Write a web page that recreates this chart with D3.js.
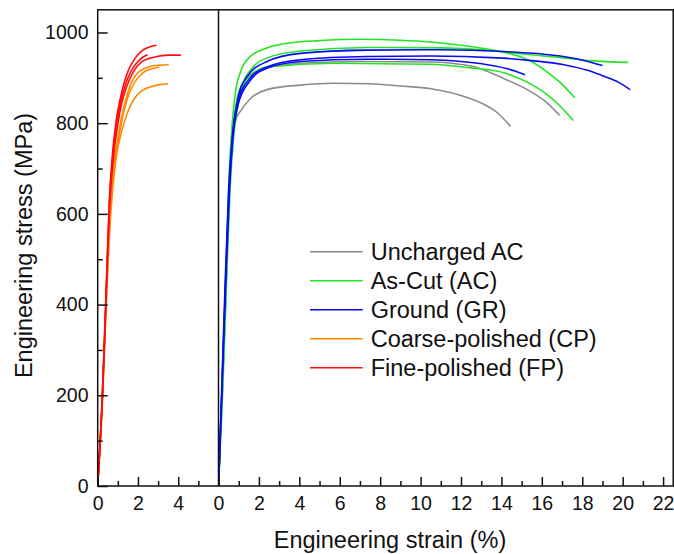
<!DOCTYPE html>
<html>
<head>
<meta charset="utf-8">
<script src="https://cdn.jsdelivr.net/npm/d3@7/dist/d3.min.js"></script>
<style>
  html, body { margin: 0; padding: 0; background: #fff; }
  svg { display: block; }
  text { font-family: Arial, "Liberation Sans", sans-serif; fill: #111; }
</style>
</head>
<body>
<svg id="chart" width="674" height="554"></svg>
<script>
// Tensile curves, [engineering strain (%), engineering stress (MPa)]

// Left panel: polished specimens
const coarsePolished = [
  [[0,0],[0.24,200],[0.44,430],[0.62,610],[0.82,710],[1.05,780],[1.27,830],[1.5,868],[1.68,890],[2.01,912],[2.35,921],[2.68,926],[3.1,928],[3.53,929]],
  [[0,0],[0.24,200],[0.44,430],[0.63,610],[0.85,710],[1.1,782],[1.3,826],[1.55,864],[1.85,891],[2.1,905],[2.34,914],[2.7,920],[3.05,924]],
  [[0,0],[0.25,200],[0.45,430],[0.65,600],[0.8,680],[0.94,730],[1.19,782],[1.52,828],[1.85,856],[2.18,871],[2.68,881],[3.1,885],[3.5,887]]
];
const finePolished = [
  [[0,0],[0.23,200],[0.42,430],[0.58,630],[0.72,725],[0.9,800],[1.1,850],[1.3,887],[1.52,916],[1.85,943],[2.18,959],[2.5,967],[2.92,972]],
  [[0,0],[0.23,200],[0.42,430],[0.58,625],[0.75,725],[0.95,800],[1.15,848],[1.4,888],[1.7,918],[2.0,936],[2.25,946],[2.48,951]],
  [[0,0],[0.24,200],[0.43,430],[0.6,620],[0.78,722],[1.0,798],[1.2,845],[1.45,882],[1.77,913],[2.18,935],[2.84,946],[3.5,950],[4.13,950]]
];

// Right panel: uncharged, as-cut and ground specimens
const unchargedAC = [
  [[0,0],[0.18,200],[0.38,450],[0.55,670],[0.72,780],[0.95,855],[1.3,895],[2.4,924],[4.05,932],[7,936],[10.5,935],[12.5,926],[14.13,898],[15.28,874],[16.2,847],[16.88,817]],
  [[0,0],[0.18,200],[0.38,450],[0.55,670],[0.7,770],[0.88,810],[1.08,826],[1.6,855],[2.4,874],[4.05,884],[5.7,888],[7.5,887],[9,882],[10.5,876],[12.15,859],[13.2,840],[13.8,823],[14.45,793]]
];
const asCut = [
  [[0,0],[0.17,200],[0.36,450],[0.52,680],[0.68,800],[0.85,872],[1.08,912],[1.57,947],[2.4,966],[3.22,975],[5,982],[7,985],[9,983],[10.5,979],[12,972],[13.5,962],[14.5,952],[15.44,937],[16.2,915],[16.93,889],[17.63,856]],
  [[0,0],[0.18,200],[0.38,450],[0.55,680],[0.72,790],[0.95,860],[1.24,893],[1.8,928],[2.4,944],[4.05,959],[7.35,967],[11,966],[13.3,961],[15,953],[17.1,944],[18.4,938],[20.27,934]],
  [[0,0],[0.2,200],[0.4,450],[0.58,660],[0.75,770],[1.0,850],[1.4,895],[2.4,924],[5.7,932],[10.5,930],[12.47,922],[14.13,911],[15.3,890],[16.2,865],[16.9,838],[17.56,806]]
];
const ground = [
  [[0,0],[0.15,200],[0.33,450],[0.5,650],[0.68,770],[0.9,842],[1.4,902],[2.4,936],[4.05,954],[7.35,961],[11,962],[14.13,958],[16.9,948],[17.92,940],[19.0,927]],
  [[0,0],[0.16,200],[0.35,450],[0.52,650],[0.7,770],[0.95,843],[1.5,896],[2.4,924],[4.05,940],[7.35,947],[10.5,948],[13.8,944],[15.5,938],[17.1,929],[18.3,916],[19.1,903],[19.8,890],[20.37,874]],
  [[0,0],[0.16,200],[0.36,450],[0.54,650],[0.72,770],[0.98,843],[1.55,893],[2.4,921],[4.05,936],[7.35,941],[10.5,940],[12,936],[13.3,929],[14.3,920],[15.17,907]]
];

const legendLabels = ["Uncharged AC", "As-Cut (AC)", "Ground (GR)", "Coarse-polished (CP)", "Fine-polished (FP)"];
const legendColors = ["#8c8c8c", "#22e622", "#0a0af5", "#ff8a00", "#ff0d0d"];

const leftTicks = [0, 2, 4];
const rightTicks = d3.range(0, 23, 2);
const yTicks = [0, 200, 400, 600, 800, 1000];

const svg = d3.select("#chart");

const y = d3.scaleLinear().domain([0, 1050]).range([486, 9.8]);
const xL = d3.scaleLinear().domain([0, 6]).range([97.7, 218.5]);
const xR = d3.scaleLinear().domain([0, 22.5]).range([218.5, 673.2]);

// clip regions for each panel
const defs = svg.append("defs");
defs.append("clipPath").attr("id", "clipL").append("rect")
  .attr("x", xL.range()[0]).attr("y", y.range()[1])
  .attr("width", xL.range()[1] - xL.range()[0]).attr("height", y.range()[0] - y.range()[1]);
defs.append("clipPath").attr("id", "clipR").append("rect")
  .attr("x", xR.range()[0]).attr("y", y.range()[1])
  .attr("width", xR.range()[1] - xR.range()[0]).attr("height", y.range()[0] - y.range()[1]);

function drawGroup(g, curves, xs, color) {
  const line = d3.line().x(d => xs(d[0])).y(d => y(d[1])).curve(d3.curveMonotoneX);
  g.selectAll(null).data(curves).enter().append("path")
    .attr("d", line)
    .attr("fill", "none")
    .attr("stroke", color)
    .attr("stroke-width", 1.6)
    .attr("stroke-linejoin", "round");
}

const gL = svg.append("g").attr("clip-path", "url(#clipL)");
drawGroup(gL, coarsePolished, xL, legendColors[3]);
drawGroup(gL, finePolished, xL, legendColors[4]);

const gR = svg.append("g").attr("clip-path", "url(#clipR)");
drawGroup(gR, unchargedAC, xR, legendColors[0]);
drawGroup(gR, asCut, xR, legendColors[1]);
drawGroup(gR, ground, xR, legendColors[2]);

// axes (ticks point inward)
function styleAxis(g) {
  g.select(".domain").remove();
  g.selectAll(".tick line").attr("stroke", "#111").attr("stroke-width", 1.5);
  g.selectAll(".tick text").style("font-size", "19.5px").attr("fill", "#111");
}

const y0 = y.range()[0];

svg.append("g").attr("transform", `translate(0,${y0})`)
  .call(d3.axisBottom(xL).tickValues(leftTicks).tickFormat(d3.format("d")).tickSizeInner(-9).tickSizeOuter(0).tickPadding(10.5))
  .call(styleAxis);
svg.append("g").attr("transform", `translate(0,${y0})`)
  .call(d3.axisBottom(xL).tickValues([1, 3, 5]).tickFormat("").tickSizeInner(-5).tickSizeOuter(0))
  .call(styleAxis);

svg.append("g").attr("transform", `translate(0,${y0})`)
  .call(d3.axisBottom(xR).tickValues(rightTicks).tickFormat(d3.format("d")).tickSizeInner(-9).tickSizeOuter(0).tickPadding(10.5))
  .call(styleAxis);
svg.append("g").attr("transform", `translate(0,${y0})`)
  .call(d3.axisBottom(xR).tickValues(d3.range(1, 23, 2)).tickFormat("").tickSizeInner(-5).tickSizeOuter(0))
  .call(styleAxis);

svg.append("g").attr("transform", `translate(${xL.range()[0]},0)`)
  .call(d3.axisLeft(y).tickValues(yTicks).tickFormat(d3.format("d")).tickSizeInner(-10).tickSizeOuter(0).tickPadding(9.2))
  .call(styleAxis);
svg.append("g").attr("transform", `translate(${xL.range()[0]},0)`)
  .call(d3.axisLeft(y).tickValues(d3.range(100, 1000, 200)).tickFormat("").tickSizeInner(-5).tickSizeOuter(0))
  .call(styleAxis);

// frame and panel divider
svg.append("rect")
  .attr("x", xL.range()[0]).attr("y", y.range()[1])
  .attr("width", xR.range()[1] - xL.range()[0]).attr("height", y0 - y.range()[1])
  .attr("fill", "none").attr("stroke", "#111").attr("stroke-width", 1.5);
svg.append("line")
  .attr("x1", xR.range()[0]).attr("x2", xR.range()[0])
  .attr("y1", y.range()[1]).attr("y2", y0)
  .attr("stroke", "#111").attr("stroke-width", 1.5);

// axis titles
svg.append("text")
  .attr("x", 390).attr("y", 548)
  .attr("text-anchor", "middle")
  .style("font-size", "23.5px")
  .text("Engineering strain (%)");
svg.append("text")
  .attr("transform", "translate(32,245.5) rotate(-90)")
  .attr("text-anchor", "middle")
  .style("font-size", "23.5px")
  .text("Engineering stress (MPa)");

// legend
const legend = svg.append("g");
legendLabels.forEach((label, i) => {
  const ly = 251.7 + i * 29;
  legend.append("line")
    .attr("x1", 310).attr("x2", 362.7).attr("y1", ly).attr("y2", ly)
    .attr("stroke", legendColors[i]).attr("stroke-width", 1.6);
  legend.append("text")
    .attr("x", 370.7).attr("y", ly).attr("dy", "0.355em")
    .style("font-size", "23.5px")
    .text(label);
});
</script>
</body>
</html>
